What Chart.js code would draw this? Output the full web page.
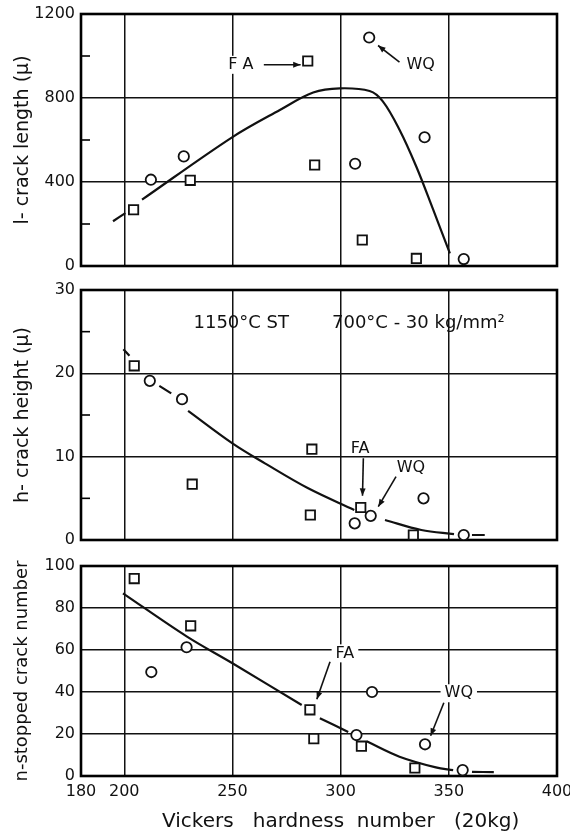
<!DOCTYPE html>
<html><head><meta charset="utf-8">
<script src="https://cdn.jsdelivr.net/npm/chart.js@4.4.1/dist/chart.umd.min.js"></script>
<style>
html,body{margin:0;padding:0;background:#fff;width:570px;height:836px;overflow:hidden}
canvas{position:absolute;left:0}
</style></head><body>
<canvas id="c1" style="top:0px" width="570" height="280"></canvas>
<canvas id="c2" style="top:280px" width="570" height="272"></canvas>
<canvas id="c3" style="top:552px" width="570" height="284"></canvas>
<script>
// ---- shared x axis ----
const xTickValues = [180, 200, 250, 300, 350, 400];

// ---- panel 1: l - crack length ----
const lTickValues = [0, 400, 800, 1200];
const lMinorTicks = [200, 600, 1000];
const lSquareX = [204.3, 230.5, 284.8, 288, 310, 335];
const lSquareY = [268, 408, 976, 481, 124, 36];
const lCircleX = [212.3, 227.5, 306.7, 313.2, 338.8, 356.9];
const lCircleY = [411, 522, 487, 1088, 613, 33];
const lCurveX = [194.8, 200.5, 204.3, 208.2, 250, 271.9, 287.3, 299.6, 313.4, 319.5, 327.2, 334.9, 342.6, 350.5];
const lCurveY = [213, 252, null, 316, 614, 743, 826, 846, 833, 784, 649, 475, 273, 60];

// ---- panel 2: h - crack height ----
const hTickValues = [0, 10, 20, 30];
const hMinorTicks = [5, 15, 25];
const hSquareX = [204.6, 231.4, 286.7, 286, 309.3, 333.6];
const hSquareY = [20.9, 6.7, 10.9, 3.0, 3.9, 0.6];
const hCircleX = [211.8, 226.7, 306.5, 313.9, 338.3, 356.9];
const hCircleY = [19.1, 16.9, 2.0, 2.9, 5.0, 0.6];
const hCurveX = [199.6, 202.4, 204.6, 216.2, 221.7, 226.7, 229.5, 250, 265, 285, 306.3, 312, 320.5, 337.3, 352.4, 356.9, 360.7, 366.6];
const hCurveY = [22.9, 22.1, null, 18.5, 17.6, null, 15.5, 11.6, 9.2, 6.2, 3.6, null, 2.4, 1.2, 0.7, null, 0.6, 0.6];

// ---- panel 3: n - stopped crack number ----
const nTickValues = [0, 20, 40, 60, 80, 100];
const nSquareX = [204.6, 230.7, 285.8, 287.6, 309.6, 334.3];
const nSquareY = [94, 71.5, 31.5, 17.8, 14.2, 3.8];
const nCircleX = [212.5, 228.8, 307.3, 314.5, 339, 356.4];
const nCircleY = [49.5, 61.3, 19.5, 40, 15.1, 2.8];
const nCurveX = [199.4, 228.8, 250, 282, 285.8, 290.4, 303.5, 307.3, 312, 327.2, 344, 352, 356.4, 360.7, 370.8];
const nCurveY = [87, 66.5, 53.7, 33.8, null, 27.5, 21, null, 16.5, 9.2, 4.1, 2.8, null, 2.0, 1.8];

const xTitle = 'Vickers   hardness  number   (20kg)';

function pts(xs, ys){ return xs.map((x,i)=>({x:x, y:ys[i]})); }

const framePlugin = {
  id: 'frame',
  beforeDatasetsDraw(chart, args, opts){
    const {ctx, chartArea:a, scales} = chart;
    ctx.save();
    ctx.strokeStyle = '#000';
    ctx.lineWidth = 2.6;
    ctx.strokeRect(a.left, a.top, a.right - a.left, a.bottom - a.top);
    ctx.lineWidth = 1.6;
    (opts.minor || []).forEach(v => {
      const p = scales.y.getPixelForValue(v);
      ctx.beginPath(); ctx.moveTo(a.left, p); ctx.lineTo(a.left + 9, p); ctx.stroke();
    });
    ctx.restore();
  },
  afterDatasetsDraw(chart, args, opts){
    const {ctx, chartArea:a, scales} = chart;
    const xs = scales.x, ys = scales.y;
    ctx.save();
    (opts.notes || []).forEach(n => {
      ctx.font = (n.weight || '500') + ' ' + (n.size || 16) + 'px "DejaVu Sans", sans-serif';
      ctx.textAlign = n.align || 'center';
      ctx.textBaseline = 'middle';
      const px = xs.getPixelForValue(n.x), py = ys.getPixelForValue(n.y);
      const w = ctx.measureText(n.text).width;
      if (n.bg) {
        const left = ctx.textAlign === 'left' ? px : px - w/2;
        ctx.fillStyle = '#fff';
        ctx.fillRect(left - 4, py - 9, w + 8, 18);
      }
      ctx.fillStyle = '#111';
      ctx.fillText(n.text, px, py);
    });
    ctx.strokeStyle = '#111'; ctx.fillStyle = '#111'; ctx.lineWidth = 1.6;
    (opts.arrows || []).forEach(r => {
      const x1 = xs.getPixelForValue(r.x1), y1 = ys.getPixelForValue(r.y1);
      const x2 = xs.getPixelForValue(r.x2), y2 = ys.getPixelForValue(r.y2);
      ctx.beginPath(); ctx.moveTo(x1, y1); ctx.lineTo(x2, y2); ctx.stroke();
      const ang = Math.atan2(y2 - y1, x2 - x1), L = 8, s = 0.38;
      ctx.beginPath();
      ctx.moveTo(x2, y2);
      ctx.lineTo(x2 - L*Math.cos(ang - s), y2 - L*Math.sin(ang - s));
      ctx.lineTo(x2 - L*Math.cos(ang + s), y2 - L*Math.sin(ang + s));
      ctx.closePath(); ctx.fill();
    });
    if (opts.xTitle) {
      ctx.font = '20px "DejaVu Sans", sans-serif';
      ctx.textAlign = 'center'; ctx.textBaseline = 'middle';
      ctx.fillStyle = '#111';
      ctx.fillText(opts.xTitle.text, xs.getPixelForValue(opts.xTitle.x), a.bottom + opts.xTitle.dy);
    }
    ctx.restore();
  }
};

function makeChart(id, c){
  const canvas = document.getElementById(id);
  const H = canvas.height;
  return new Chart(canvas, {
    type: 'scatter',
    data: { datasets: [
      { data: pts(c.sqX, c.sqY), pointStyle: 'rect', pointRadius: 6.6, pointHoverRadius: 6.6,
        borderColor: '#111', backgroundColor: '#fff', pointBorderWidth: 1.8, showLine: false },
      { data: pts(c.ciX, c.ciY), pointStyle: 'circle', pointRadius: 5.2, pointHoverRadius: 5.2,
        borderColor: '#111', backgroundColor: '#fff', pointBorderWidth: 1.8, showLine: false },
      { data: pts(c.fitX, c.fitY), showLine: true, pointRadius: 0, borderColor: '#111', borderWidth: 2.2,
        tension: 0.35, spanGaps: false, fill: false }
    ]},
    options: {
      responsive: false, animation: false, events: [],
      layout: { padding: { top: c.top, right: 13, left: 0, bottom: 0 } },
      plugins: { legend: { display: false }, tooltip: { enabled: false },
        frame: { minor: c.minor, notes: c.notes, arrows: c.arrows, xTitle: c.xTitle } },
      scales: {
        x: {
          type: 'linear', min: 180, max: 400,
          afterBuildTicks: s => { s.ticks = xTickValues.map(v => ({value: v})); },
          afterFit: s => { s.height = H - c.bottom; s.paddingLeft = 0; s.paddingRight = 0; },
          grid: { color: '#111', lineWidth: 1.5, drawTicks: false },
          border: { display: false },
          ticks: { display: c.showX, padding: 6, color: '#111', maxRotation: 0, autoSkip: false,
            callback: v => String(v),
            font: { family: '"DejaVu Sans", sans-serif', size: 16 } }
        },
        y: {
          type: 'linear', min: c.ymin, max: c.ymax,
          afterBuildTicks: s => { s.ticks = c.yTicks.map(v => ({value: v})); },
          afterFit: s => { s.width = 81; s.paddingTop = 0; s.paddingBottom = 0; },
          grid: { color: '#111', lineWidth: 1.5, drawTicks: false },
          border: { display: false },
          ticks: { padding: 6, color: '#111', autoSkip: false,
            callback: v => String(v),
            font: { family: '"DejaVu Sans", sans-serif', size: 16 } },
          title: { display: true, text: c.title, color: '#111', padding: { top: 12, bottom: 0 },
            font: { family: '"DejaVu Sans", sans-serif', size: c.titleSize || 19 } }
        }
      }
    },
    plugins: [framePlugin]
  });
}

makeChart('c1', {
  top: 14, bottom: 266, ymin: 0, ymax: 1200, yTicks: lTickValues, minor: lMinorTicks,
  title: 'l- crack length (μ)', showX: false,
  sqX: lSquareX, sqY: lSquareY, ciX: lCircleX, ciY: lCircleY, fitX: lCurveX, fitY: lCurveY,
  notes: [ {text: 'F A', x: 248, y: 958, align: 'left', bg: true},
           {text: 'WQ', x: 337, y: 958, align: 'center', bg: true} ],
  arrows: [ {x1: 264.5, y1: 958, x2: 281.5, y2: 958},
            {x1: 327.2, y1: 971, x2: 317.3, y2: 1050} ]
});

makeChart('c2', {
  top: 10, bottom: 260, ymin: 0, ymax: 30, yTicks: hTickValues, minor: hMinorTicks,
  title: 'h- crack height (μ)', showX: false,
  sqX: hSquareX, sqY: hSquareY, ciX: hCircleX, ciY: hCircleY, fitX: hCurveX, fitY: hCurveY,
  notes: [ {text: '1150°C ST', x: 232, y: 26, align: 'left', size: 18, weight: '400'},
           {text: '700°C - 30 kg/mm²', x: 296, y: 26, align: 'left', size: 18, weight: '400'},
           {text: 'FA', x: 309, y: 10.9, align: 'center'},
           {text: 'WQ', x: 332.5, y: 8.6, align: 'center'} ],
  arrows: [ {x1: 310.5, y1: 9.8, x2: 310.1, y2: 5.3},
            {x1: 325.6, y1: 7.6, x2: 317.4, y2: 4.0} ]
});

makeChart('c3', {
  top: 14, bottom: 224, ymin: 0, ymax: 100, yTicks: nTickValues, minor: [],
  title: 'n-stopped crack number', titleSize: 18, showX: true,
  sqX: nSquareX, sqY: nSquareY, ciX: nCircleX, ciY: nCircleY, fitX: nCurveX, fitY: nCurveY,
  notes: [ {text: 'FA', x: 302, y: 58.4, align: 'center', bg: true},
           {text: 'WQ', x: 354.6, y: 39.4, align: 'center', bg: true} ],
  arrows: [ {x1: 295.1, y1: 54.4, x2: 289, y2: 36.5},
            {x1: 347.7, y1: 34.9, x2: 341.6, y2: 19.2} ],
  xTitle: {text: xTitle, x: 300, dy: 46}
});
</script>
</body></html>
